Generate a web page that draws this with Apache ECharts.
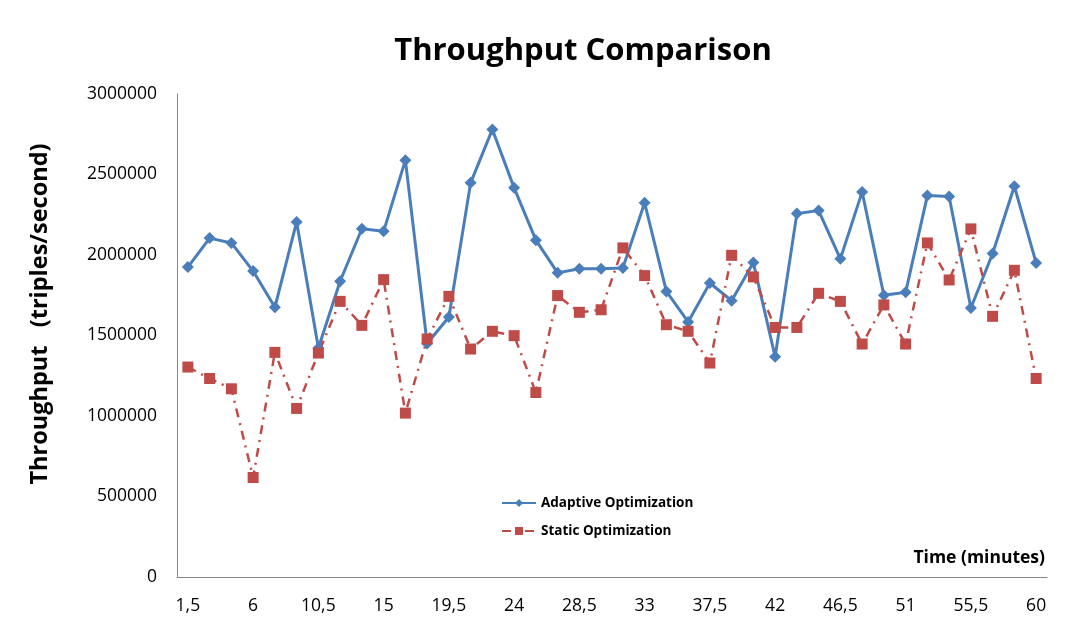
<!DOCTYPE html>
<html>
<head>
<meta charset="utf-8">
<script src="https://cdn.jsdelivr.net/npm/echarts@6/dist/echarts.min.js"></script>
<style>html,body{margin:0;padding:0;background:#fff}#c{width:1089px;height:639px}</style>
</head>
<body>
<div id="c"></div>
<script>
const categories = ["1,5","3","4,5","6","7,5","9","10,5","12","13,5","15","16,5","18","19,5","21","22,5","24","25,5","27","28,5","30","31,5","33","34,5","36","37,5","39","40,5","42","43,5","45","46,5","48","49,5","51","52,5","54","55,5","57","58,5","60"];
const adaptive = [1925000,2105000,2075000,1900000,1675000,2205000,1422000,1837000,2163000,2147000,2589000,1450000,1615000,2448000,2780000,2417000,2092000,1889000,1914000,1914000,1920000,2324000,1774000,1584000,1826000,1716000,1953000,1368000,2257000,2276000,1976000,2392000,1750000,1768000,2369000,2363000,1671000,2009000,2427000,1951000];
const staticOpt = [1304000,1233000,1169000,618000,1395000,1047000,1391000,1712000,1563000,1847000,1018000,1478000,1743000,1416000,1526000,1499000,1146000,1748000,1644000,1660000,2044000,1872000,1567000,1526000,1329000,1998000,1864000,1550000,1550000,1762000,1712000,1447000,1690000,1447000,2075000,1845000,2162000,1619000,1905000,1233000];
const yTicks = [0,500000,1000000,1500000,2000000,2500000,3000000];

const font = "'Open Sans', 'DejaVu Sans', sans-serif";
const chart = echarts.init(document.getElementById('c'), null, {renderer:'canvas'});
chart.setOption({
  animation:false,
  backgroundColor:'#fff',
  title:{text:'Throughput Comparison',left:578,top:31,textAlign:'center',
    textStyle:{fontFamily:font,fontWeight:'bold',fontSize:31,color:'#000'}},
  graphic:[{type:'text',x:40,y:314,rotation:Math.PI/2,
    style:{text:'Throughput   (triples/second)',font:"bold 23.5px 'Open Sans', 'DejaVu Sans', sans-serif",fill:'#000',align:'center',verticalAlign:'middle'}}],
  grid:{left:177,right:42,top:94,bottom:62,containLabel:false},
  legend:{orient:'vertical',left:496,top:491,itemGap:14,itemWidth:34,itemHeight:10,
    data:['Adaptive Optimization','Static Optimization'],
    textStyle:{fontFamily:font,fontWeight:'bold',fontSize:13.5,color:'#000'}},
  xAxis:{type:'category',data:categories,boundaryGap:true,
    name:'Time (minutes)',nameLocation:'end',nameGap:0,
    nameTextStyle:{fontFamily:font,fontWeight:'bold',fontSize:17.5,color:'#000',align:'right',verticalAlign:'bottom',padding:[0,2,10,0]},
    axisLine:{lineStyle:{color:'#868686',width:1}},
    axisTick:{show:false},
    axisLabel:{interval:2,margin:20,fontFamily:font,fontSize:17.5,color:'#000'},
    splitLine:{show:false}},
  yAxis:{type:'value',min:yTicks[0],max:yTicks[yTicks.length-1],interval:500000,
    axisLine:{show:true,lineStyle:{color:'#868686',width:1}},
    axisTick:{show:false},
    axisLabel:{margin:20,fontFamily:font,fontSize:17.5,color:'#000',formatter:function(v){return String(v);}},
    splitLine:{show:false}},
  series:[
    {name:'Adaptive Optimization',type:'line',data:adaptive,symbol:'diamond',symbolSize:12,
      lineStyle:{color:'#4A7EBB',width:3},itemStyle:{color:'#4A7EBB'}},
    {name:'Static Optimization',type:'line',data:staticOpt,symbol:'rect',symbolSize:11,
      lineStyle:{color:'#BE4B48',width:2.5,type:[9,6,2,6]},itemStyle:{color:'#BE4B48'}}
  ]
});
</script>
</body>
</html>
